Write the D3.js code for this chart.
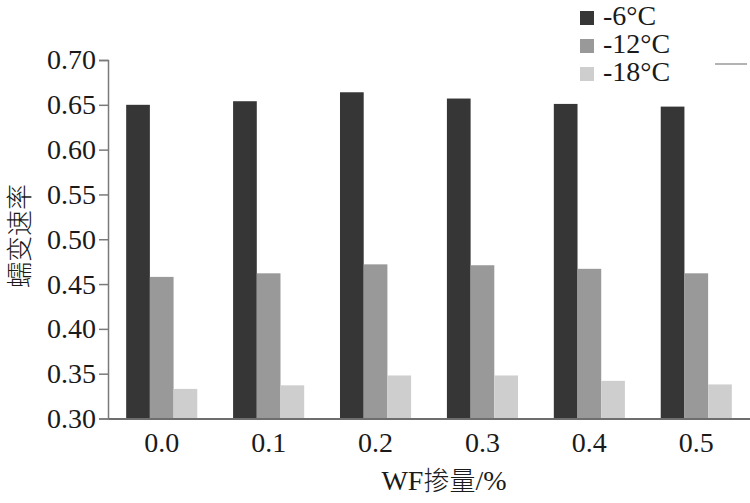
<!DOCTYPE html>
<html>
<head>
<meta charset="utf-8">
<script src="https://cdn.jsdelivr.net/npm/d3@7"></script>
<style>
  html, body { margin: 0; padding: 0; background: #fff; }
  svg { display: block; }
</style>
</head>
<body>
<svg id="chart" width="750" height="503"></svg>
<script>
const categories = ["0.0", "0.1", "0.2", "0.3", "0.4", "0.5"];
const seriesNames = ["-6\u2103", "-12\u2103", "-18\u2103"];
const series6 = [0.650, 0.654, 0.664, 0.657, 0.651, 0.648];
const series12 = [0.458, 0.462, 0.472, 0.471, 0.467, 0.462];
const series18 = [0.333, 0.337, 0.348, 0.348, 0.342, 0.338];
const yTicks = [0.30, 0.35, 0.40, 0.45, 0.50, 0.55, 0.60, 0.65, 0.70];
const colors = ["#363636", "#999999", "#cecece"];
const xTitle = "WF掺量/%";
const yTitle = "蠕变速率";

const allSeries = [series6, series12, series18];
const svg = d3.select("#chart");
const serif = "'Liberation Serif', 'Times New Roman', serif";
const cjk = "'Noto Sans CJK SC', sans-serif";

const x0 = d3.scaleBand().domain(categories).range([108, 750]).paddingInner(0.335).paddingOuter(0.17);
const x1 = d3.scaleBand().domain(d3.range(seriesNames.length)).range([0, x0.bandwidth()]);
const y = d3.scaleLinear().domain([0.30, 0.70]).range([418.5, 60]);

// bars
const groups = svg.append("g").selectAll("g").data(categories).join("g")
  .attr("transform", d => `translate(${x0(d)},0)`);
groups.selectAll("rect")
  .data((d, i) => allSeries.map((s, j) => ({ j, v: s[i] })))
  .join("rect")
  .attr("x", d => x1(d.j))
  .attr("width", x1.bandwidth())
  .attr("y", d => y(d.v))
  .attr("height", d => y(0.30) - y(d.v))
  .attr("fill", d => colors[d.j]);

// y axis
const yAxis = d3.axisLeft(y).tickValues(yTicks).tickFormat(d3.format(".2f")).tickSizeOuter(0).tickSize(9).tickPadding(3);
const gy = svg.append("g").attr("transform", "translate(108,0)").call(yAxis);
gy.select(".domain").attr("stroke", "#7a7a7a").attr("stroke-width", 1.5);
gy.selectAll(".tick line").attr("stroke", "#7a7a7a").attr("stroke-width", 1.5);
gy.selectAll(".tick text").attr("font-family", serif).attr("font-size", 28).attr("fill", "#1a1a1a");

// x axis
const xAxis = d3.axisBottom(x0).tickSize(0).tickSizeOuter(0).tickPadding(12);
const gx = svg.append("g").attr("transform", "translate(0,418.5)").call(xAxis);
gx.select(".domain").attr("stroke", "#6e6e6e").attr("stroke-width", 2);
gx.selectAll(".tick text").attr("font-family", serif).attr("font-size", 28).attr("fill", "#1a1a1a").attr("dy", "0.78em");

// axis titles
svg.append("text")
  .attr("x", 444).attr("y", 490)
  .attr("text-anchor", "middle")
  .attr("font-size", 26)
  .attr("fill", "#1a1a1a")
  .call(t => {
    t.append("tspan").attr("font-family", serif).attr("font-size", 28).text("WF");
    t.append("tspan").attr("font-family", cjk).attr("font-weight", 300).text("掺量");
    t.append("tspan").attr("font-family", serif).attr("font-size", 28).text("/%");
  });

svg.append("text")
  .attr("transform", "translate(29,236) rotate(-90)")
  .attr("text-anchor", "middle")
  .attr("font-family", cjk)
  .attr("font-weight", 300)
  .attr("font-size", 26)
  .attr("fill", "#1a1a1a")
  .text(yTitle);

// legend
const legend = svg.append("g");
seriesNames.forEach((name, i) => {
  const baseY = 25 + i * 28;
  legend.append("rect")
    .attr("x", 580).attr("y", baseY - 14)
    .attr("width", 14).attr("height", 14)
    .attr("fill", colors[i]);
  legend.append("text")
    .attr("x", 603).attr("y", baseY)
    .attr("font-family", serif).attr("font-size", 28).attr("fill", "#1a1a1a")
    .text(name.replace("\u2103", "°C"));
});
legend.append("line")
  .attr("x1", 715).attr("x2", 747).attr("y1", 64).attr("y2", 64)
  .attr("stroke", "#9a9a9a").attr("stroke-width", 1.5);
</script>
</body>
</html>
